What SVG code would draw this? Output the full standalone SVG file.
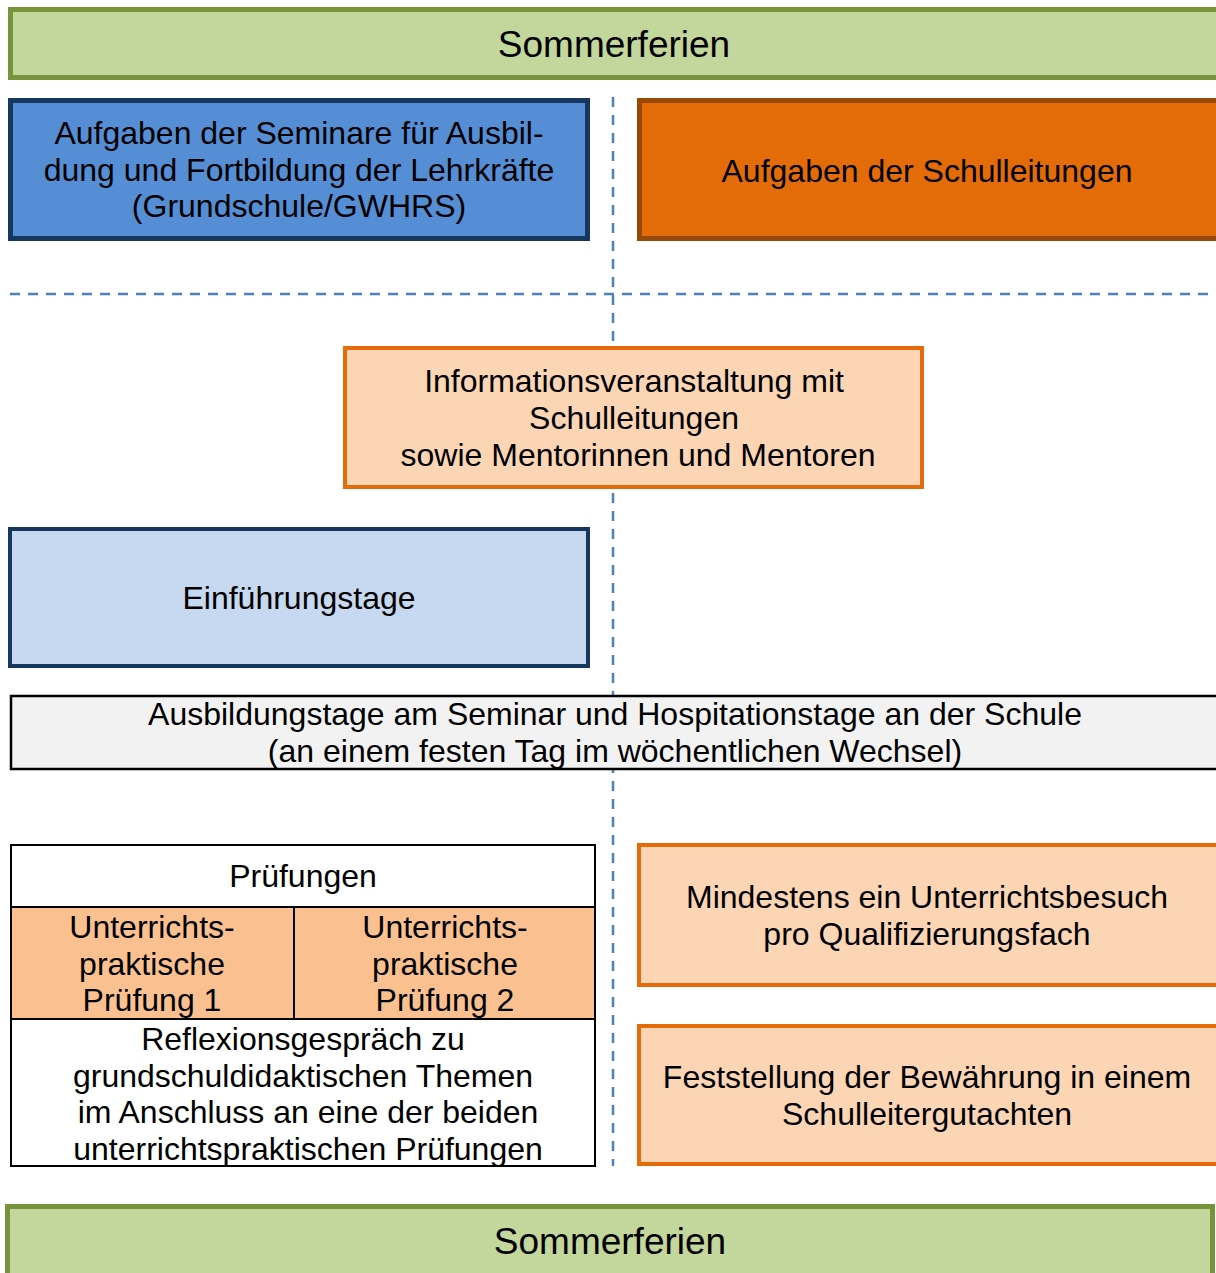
<svg xmlns="http://www.w3.org/2000/svg" width="1216" height="1273" viewBox="0 0 1216 1273">
<style>
text{font-family:"Liberation Sans",Arial,sans-serif;font-size:32px;fill:#000;text-anchor:middle}
.big{font-size:37px}
.green{fill:#C3D69B;stroke:#77933C;stroke-width:5}
.peach{fill:#FCD5B5;stroke:#E46C0A;stroke-width:4}
.dash{stroke:#4F81BD;stroke-width:2.5;stroke-dasharray:10 8;fill:none}
</style>
<rect width="1216" height="1273" fill="#fff"/>
<g id="connectors">
<line class="dash" x1="613" y1="97" x2="613" y2="1166"/>
<line class="dash" x1="10" y1="294" x2="1210" y2="294"/>
</g>
<g id="sommer-top">
<rect class="green" x="10.5" y="9.5" width="1210" height="68"/>
<text class="big" x="614" y="57">Sommerferien</text>
</g>
<g id="seminare">
<rect x="10.5" y="100.5" width="577" height="138" fill="#558ED5" stroke="#17375E" stroke-width="5"/>
<text x="299" y="144">Aufgaben der Seminare für Ausbil-</text>
<text x="299" y="181">dung und Fortbildung der Lehrkräfte</text>
<text x="299" y="217">(Grundschule/GWHRS)</text>
</g>
<g id="schulleitungen">
<rect x="639.5" y="100.5" width="580" height="138" fill="#E36C09" stroke="#984807" stroke-width="5"/>
<text x="927" y="182">Aufgaben der Schulleitungen</text>
</g>
<g id="info">
<rect class="peach" x="345" y="348" width="577" height="139"/>
<text x="634" y="392">Informationsveranstaltung mit</text>
<text x="634" y="429">Schulleitungen</text>
<text x="638" y="466">sowie Mentorinnen und Mentoren</text>
</g>
<g id="einfuehrung">
<rect x="10" y="529" width="578" height="137" fill="#C6D9F1" stroke="#17375E" stroke-width="4"/>
<text x="299" y="609">Einführungstage</text>
</g>
<g id="ausbildungstage">
<rect x="11" y="696" width="1210" height="73" fill="#F2F2F2" stroke="#000" stroke-width="2.5"/>
<text x="615" y="725">Ausbildungstage am Seminar und Hospitationstage an der Schule</text>
<text x="615" y="762">(an einem festen Tag im wöchentlichen Wechsel)</text>
</g>
<g id="pruefungen">
<rect x="11" y="845" width="584" height="321" fill="#fff" stroke="#000" stroke-width="2"/>
<rect x="11" y="907" width="584" height="112" fill="#FAC090" stroke="#000" stroke-width="2"/>
<line x1="294" y1="907" x2="294" y2="1019" stroke="#000" stroke-width="2"/>
<text x="303" y="887">Prüfungen</text>
<text x="152" y="938">Unterrichts-</text>
<text x="152" y="975">praktische</text>
<text x="152" y="1011">Prüfung 1</text>
<text x="445" y="938">Unterrichts-</text>
<text x="445" y="975">praktische</text>
<text x="445" y="1011">Prüfung 2</text>
<text x="303" y="1050">Reflexionsgespräch zu</text>
<text x="303" y="1087">grundschuldidaktischen Themen</text>
<text x="308" y="1123">im Anschluss an eine der beiden</text>
<text x="308" y="1160">unterrichtspraktischen Prüfungen</text>
</g>
<g id="mindestens">
<rect class="peach" x="639" y="845" width="580" height="140"/>
<text x="927" y="908">Mindestens ein Unterrichtsbesuch</text>
<text x="927" y="945">pro Qualifizierungsfach</text>
</g>
<g id="feststellung">
<rect class="peach" x="639" y="1026" width="580" height="138"/>
<text x="927" y="1088">Feststellung der Bewährung in einem</text>
<text x="927" y="1125">Schulleitergutachten</text>
</g>
<g id="sommer-bottom">
<rect class="green" x="7.5" y="1206.5" width="1205" height="70"/>
<text class="big" x="610" y="1254">Sommerferien</text>
</g>
</svg>
